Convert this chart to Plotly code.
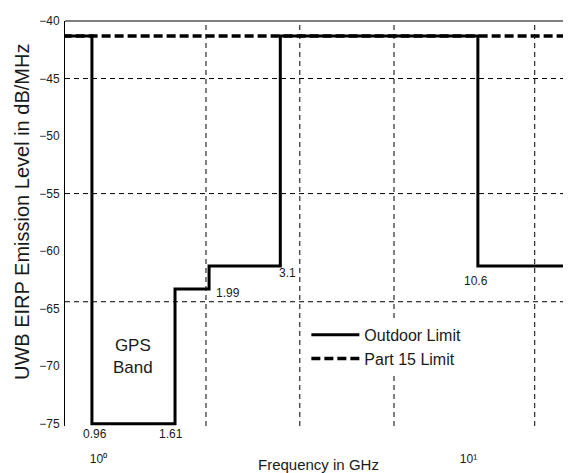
import math
import plotly.graph_objects as go

# ---- data ----
outdoor_freq = [0.8, 0.96, 1.61, 1.99, 3.1, 10.6, 20.0]
outdoor_level = [-41.3, -75.0, -63.3, -61.3, -41.3, -61.3, -61.3]
part15_freq = [0.8, 20.0]
part15_level = [-41.3, -41.3]
edge_labels = ["0.96", "1.61", "1.99", "3.1", "10.6"]
edge_freqs = [0.96, 1.61, 1.99, 3.1, 10.6]
y_ticks = [-40, -45, -50, -55, -60, -65, -70, -75]
x_ticks = [1, 10]
x_ticktext = ["10⁰", "10¹"]

FONT = "Liberation Sans, Arial, sans-serif"
INK = "#1a1a1a"
L = math.log10

fig = go.Figure()
fig.add_trace(go.Scatter(
    x=part15_freq, y=part15_level, mode="lines", name="Part 15 Limit",
    line=dict(color="black", width=3.5, dash="9px,4px"), legendrank=2))
fig.add_trace(go.Scatter(
    x=outdoor_freq, y=outdoor_level, mode="lines", name="Outdoor Limit",
    line=dict(color="black", width=3, shape="hv"), legendrank=1))

shapes = []
# dashed grid lines
for gx in [1.952, 3.50, 6.29, 15.1]:
    shapes.append(dict(type="line", xref="x", yref="paper", x0=gx, x1=gx, y0=0, y1=1,
                       line=dict(color="black", width=1, dash="5px,4px"), layer="below"))
for gy in [-45, -55, -64.4]:
    shapes.append(dict(type="line", xref="paper", yref="y", x0=0, x1=1, y0=gy, y1=gy,
                       line=dict(color="black", width=1, dash="5px,4px"), layer="below"))
# top frame line
shapes.append(dict(type="line", xref="paper", yref="paper", x0=0, x1=1, y0=1, y1=1,
                   line=dict(color="black", width=1)))

ann = []
tf = dict(family=FONT, size=12, color=INK)
ann.append(dict(x=L(edge_freqs[0]), y=-75, text=edge_labels[0], showarrow=False,
                yanchor="top", yshift=-1, xshift=3, font=tf))
ann.append(dict(x=L(edge_freqs[1]), y=-75, text=edge_labels[1], showarrow=False,
                yanchor="top", yshift=-1, xshift=-4, font=tf))
ann.append(dict(x=L(edge_freqs[2]), y=-63.6, text=edge_labels[2], showarrow=False,
                xanchor="left", yanchor="middle", xshift=5, font=tf))
ann.append(dict(x=L(edge_freqs[3]), y=-61.9, text=edge_labels[3], showarrow=False,
                xanchor="left", yanchor="middle", xshift=-3, font=tf))
ann.append(dict(x=L(edge_freqs[4]), y=-62.6, text=edge_labels[4], showarrow=False,
                xanchor="center", yanchor="middle", xshift=-2, font=tf))
ann.append(dict(x=L((edge_freqs[0] * edge_freqs[1]) ** 0.5), y=-69.2, text="GPS<br>Band",
                showarrow=False, font=dict(family=FONT, size=17, color=INK)))
ann.append(dict(x=0.5, y=0, xref="paper", yref="paper", text="Frequency in GHz",
                showarrow=False, yanchor="top", yshift=-28,
                font=dict(family=FONT, size=15, color=INK)))
ann.append(dict(x=0, y=1, xref="paper", yref="paper", text="UWB EIRP Emission Level in dB/MHz",
                showarrow=False, textangle=-90, xanchor="center", yanchor="middle",
                xshift=-43, yshift=-191,
                font=dict(family=FONT, size=20, color=INK)))

fig.update_layout(
    width=571, height=473,
    margin=dict(l=57, r=8, t=13, b=55),
    plot_bgcolor="white", paper_bgcolor="white",
    font=dict(family=FONT, size=12, color=INK),
    shapes=shapes, annotations=ann,
    showlegend=True,
    legend=dict(x=0.477, y=0.267, xanchor="left", yanchor="top", bgcolor="white",
                font=dict(family=FONT, size=16, color=INK), borderwidth=0,
                itemwidth=48, tracegroupgap=0),
    xaxis=dict(type="log", range=[-0.0905, 1.277], showgrid=False, zeroline=False,
               tickvals=x_ticks, ticktext=x_ticktext, ticks="", showline=False,
               automargin=False, ticklabelstandoff=24,
               tickfont=dict(family=FONT, size=12, color=INK)),
    yaxis=dict(range=[-75.2, -40], showgrid=False, zeroline=False, tickvals=y_ticks,
               ticktext=[f"\u2212{abs(v)}" for v in y_ticks], ticks="",
               showline=True, linecolor="black", linewidth=1, automargin=False,
               ticklabelstandoff=2,
               tickfont=dict(family=FONT, size=12, color=INK)),
)

fig.write_html("out.html")
